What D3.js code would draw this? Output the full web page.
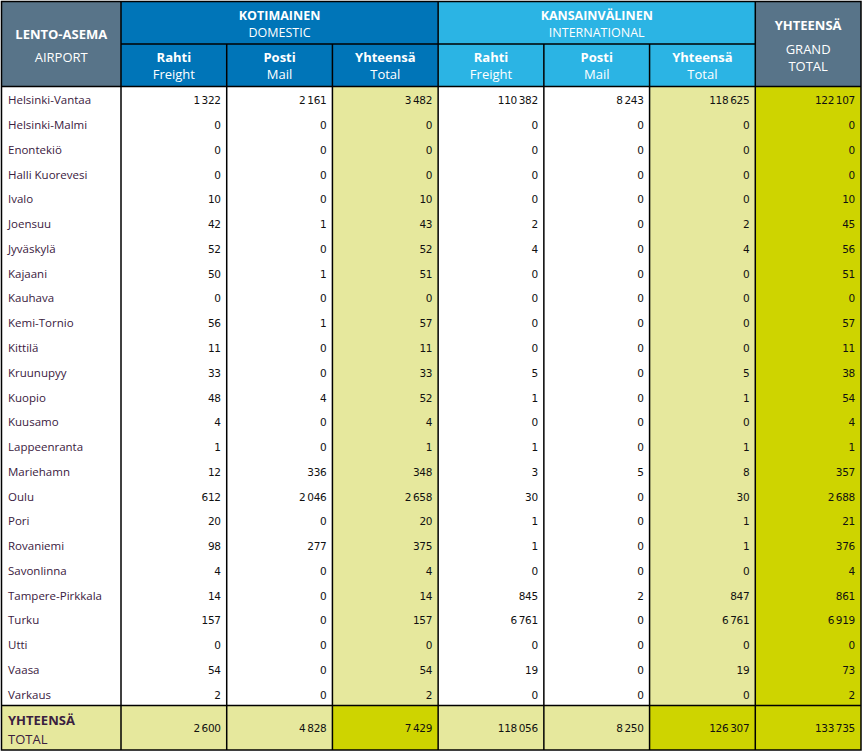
<!DOCTYPE html>
<html>
<head>
<meta charset="utf-8">
<script src="https://cdn.jsdelivr.net/npm/d3@7"></script>
<style>
  body { margin: 0; background: #fff; }
  svg { display: block; }
  .hd { fill: #fff; font-family: "Open Sans", sans-serif; font-size: 13px; }
  .name { fill: #3a2040; font-family: "Open Sans", sans-serif; font-size: 11.5px; }
  .num { fill: #111; font-family: "DejaVu Sans", sans-serif; font-size: 10.5px; letter-spacing: -0.3px; }
</style>
</head>
<body>
<script>
// airports and values per column
let airports = ["Helsinki-Vantaa", "Helsinki-Malmi", "Enontekiö", "Halli Kuorevesi", "Ivalo", "Joensuu", "Jyväskylä",
    "Kajaani", "Kauhava", "Kemi-Tornio", "Kittilä", "Kruunupyy", "Kuopio", "Kuusamo", "Lappeenranta", "Mariehamn",
    "Oulu", "Pori", "Rovaniemi", "Savonlinna", "Tampere-Pirkkala", "Turku", "Utti", "Vaasa", "Varkaus"];
let domFreight = [1322, 0, 0, 0, 10, 42, 52, 50, 0, 56, 11, 33, 48, 4, 1, 12, 612, 20, 98, 4, 14, 157, 0, 54, 2];
let domMail = [2161, 0, 0, 0, 0, 1, 0, 1, 0, 1, 0, 0, 4, 0, 0, 336, 2046, 0, 277, 0, 0, 0, 0, 0, 0];
let domTotal = [3482, 0, 0, 0, 10, 43, 52, 51, 0, 57, 11, 33, 52, 4, 1, 348, 2658, 20, 375, 4, 14, 157, 0, 54, 2];
let intFreight = [110382, 0, 0, 0, 0, 2, 4, 0, 0, 0, 0, 5, 1, 0, 1, 3, 30, 1, 1, 0, 845, 6761, 0, 19, 0];
let intMail = [8243, 0, 0, 0, 0, 0, 0, 0, 0, 0, 0, 0, 0, 0, 0, 5, 0, 0, 0, 0, 2, 0, 0, 0, 0];
let intTotal = [118625, 0, 0, 0, 0, 2, 4, 0, 0, 0, 0, 5, 1, 0, 1, 8, 30, 1, 1, 0, 847, 6761, 0, 19, 0];
let grandTotal = [122107, 0, 0, 0, 10, 45, 56, 51, 0, 57, 11, 38, 54, 4, 1, 357, 2688, 21, 376, 4, 861, 6919, 0, 73, 2];
let totalRow = [2600, 4828, 7429, 118056, 8250, 126307, 133735];

let groupLabels = [["KOTIMAINEN", "DOMESTIC"], ["KANSAINVÄLINEN", "INTERNATIONAL"]];
let subLabels = [["Rahti", "Freight"], ["Posti", "Mail"], ["Yhteensä", "Total"]];

let columns = [domFreight, domMail, domTotal, intFreight, intMail, intTotal, grandTotal];
let colKeys = d3.range(columns.length);

let W = 865, H = 753;
let left = 1.5, airportRight = 121, right = 861,
    top1 = 1.5, top2 = 44, top3 = 86.5, bodyBottom = 705.5, bottom = 750;

let svg = d3.select("body").append("svg").attr("width", W).attr("height", H);

let x = d3.scaleBand().domain(colKeys).range([airportRight, right]);
let y = d3.scaleBand().domain(d3.range(airports.length)).range([top3, bodyBottom]);
let fmt = d3.formatLocale({decimal: ",", thousands: "\u2009", grouping: [3], currency: ["", ""]}).format(",d");

let c = {slate: "#587489", dom: "#0075b8", intl: "#2bb4e4", light: "#e6e89d", strong: "#ced400"};
let isTotalCol = k => k === 2 || k === 5;

// header backgrounds
svg.append("rect").attr("x", left).attr("y", top1).attr("width", airportRight - left).attr("height", top3 - top1).attr("fill", c.slate);
svg.append("rect").attr("x", x(0)).attr("y", top1).attr("width", x.bandwidth() * 3).attr("height", top3 - top1).attr("fill", c.dom);
svg.append("rect").attr("x", x(3)).attr("y", top1).attr("width", x.bandwidth() * 3).attr("height", top3 - top1).attr("fill", c.intl);
svg.append("rect").attr("x", x(6)).attr("y", top1).attr("width", x.bandwidth()).attr("height", top3 - top1).attr("fill", c.slate);

// body cell backgrounds
colKeys.forEach(k => {
    let fill = k === 6 ? c.strong : (isTotalCol(k) ? c.light : "#fff");
    svg.append("rect").attr("x", x(k)).attr("y", top3).attr("width", x.bandwidth()).attr("height", bodyBottom - top3).attr("fill", fill);
    svg.append("rect").attr("x", x(k)).attr("y", bodyBottom).attr("width", x.bandwidth()).attr("height", bottom - bodyBottom)
        .attr("fill", (isTotalCol(k) || k === 6) ? c.strong : c.light);
});
svg.append("rect").attr("x", left).attr("y", bodyBottom).attr("width", airportRight - left).attr("height", bottom - bodyBottom).attr("fill", c.light);

// header text
let hd = svg.append("g").attr("class", "hd").attr("text-anchor", "middle");
hd.append("text").attr("x", (left + airportRight) / 2).attr("y", 39).attr("font-weight", "bold").text("LENTO-ASEMA");
hd.append("text").attr("x", (left + airportRight) / 2).attr("y", 62).text("AIRPORT");
groupLabels.forEach((g, i) => {
    let cx = x(i * 3) + x.bandwidth() * 1.5;
    hd.append("text").attr("x", cx).attr("y", 20).style("font-size", "12.5px").attr("font-weight", "bold").text(g[0]);
    hd.append("text").attr("x", cx).attr("y", 37).style("font-size", "12.5px").text(g[1]);
    subLabels.forEach((s, j) => {
        let sx = x(i * 3 + j) + x.bandwidth() / 2;
        hd.append("text").attr("x", sx).attr("y", 62).attr("font-weight", "bold").text(s[0]);
        hd.append("text").attr("x", sx).attr("y", 79).text(s[1]);
    });
});
let gx = x(6) + x.bandwidth() / 2;
hd.append("text").attr("x", gx).attr("y", 30).attr("font-weight", "bold").text("YHTEENSÄ");
hd.append("text").attr("x", gx).attr("y", 54).text("GRAND");
hd.append("text").attr("x", gx).attr("y", 71).text("TOTAL");

// airport names
svg.append("g").selectAll("text").data(airports).join("text")
    .attr("class", "name")
    .attr("x", 8)
    .attr("y", (d, i) => y(i) + y.bandwidth() / 2 + 5.5)
    .text(d => d);

// values
colKeys.forEach(k => {
    svg.append("g").selectAll("text").data(columns[k]).join("text")
        .attr("class", "num")
        .attr("text-anchor", "end")
        .attr("x", x(k) + x.bandwidth() - 6)
        .attr("y", (d, i) => y(i) + y.bandwidth() / 2 + 5.5)
        .text(d => fmt(d));
});

// total row
svg.append("text").attr("class", "name").attr("x", 8).attr("y", 725)
    .style("font-size", "13px").attr("font-weight", "bold").attr("fill", "#222").text("YHTEENSÄ");
svg.append("text").attr("class", "name").attr("x", 8).attr("y", 744)
    .style("font-size", "13px").attr("fill", "#222").text("TOTAL");
svg.append("g").selectAll("text").data(totalRow).join("text")
    .attr("class", "num")
    .attr("text-anchor", "end")
    .attr("x", (d, k) => x(k) + x.bandwidth() - 6)
    .attr("y", (bodyBottom + bottom) / 2 + 4)
    .text(d => fmt(d));

// grid lines
let line = (x1, y1, x2, y2) => svg.append("line").attr("x1", x1).attr("y1", y1).attr("x2", x2).attr("y2", y2)
    .attr("stroke", "#000").attr("stroke-width", 1.5);
line(x(0), top2, x(6), top2);
line(left, top3, right, top3);
line(left, bodyBottom, right, bodyBottom);
line(airportRight, top1, airportRight, bottom);
colKeys.slice(1).forEach(k => {
    let edge = x(k);
    line(edge, (k % 3 === 0) ? top1 : top2, edge, bottom);
});
svg.append("rect").attr("x", left).attr("y", top1).attr("width", right - left).attr("height", bottom - top1)
    .attr("fill", "none").attr("stroke", "#000").attr("stroke-width", 1.5);
</script>
</body>
</html>
